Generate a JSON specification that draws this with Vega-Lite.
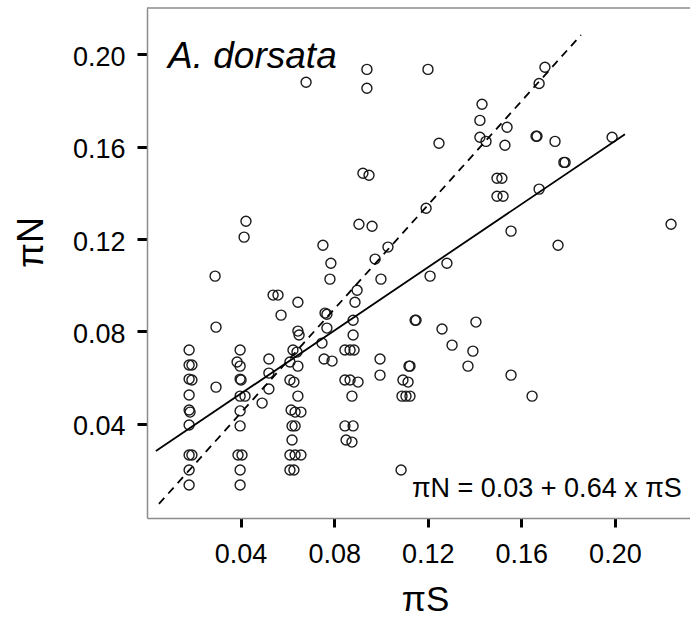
{
  "$schema": "https://vega.github.io/schema/vega-lite/v6.json",
  "width": 543,
  "height": 510,
  "autosize": "none",
  "padding": {"left": 147, "top": 8, "right": 0, "bottom": 100},
  "background": "white",
  "config": {"view": {"stroke": null}, "font": "Liberation Sans"},
  "datasets": {
    "pts": [
      {"piS":0.0180,"piN":0.0719},{"piS":0.0180,"piN":0.0654},{"piS":0.0192,"piN":0.0654},{"piS":0.0180,"piN":0.0593},
      {"piS":0.0192,"piN":0.0589},{"piS":0.0180,"piN":0.0524},{"piS":0.0180,"piN":0.0459},{"piS":0.0184,"piN":0.0450},
      {"piS":0.0180,"piN":0.0394},{"piS":0.0180,"piN":0.0264},{"piS":0.0192,"piN":0.0264},{"piS":0.0180,"piN":0.0199},
      {"piS":0.0180,"piN":0.0134},{"piS":0.0291,"piN":0.1039},{"piS":0.0295,"piN":0.0818},{"piS":0.0295,"piN":0.0558},
      {"piS":0.0423,"piN":0.1277},{"piS":0.0415,"piN":0.1208},{"piS":0.0398,"piN":0.0719},{"piS":0.0385,"piN":0.0667},
      {"piS":0.0398,"piN":0.0649},{"piS":0.0398,"piN":0.0593},{"piS":0.0402,"piN":0.0589},{"piS":0.0398,"piN":0.0519},
      {"piS":0.0419,"piN":0.0519},{"piS":0.0398,"piN":0.0455},{"piS":0.0398,"piN":0.0390},{"piS":0.0389,"piN":0.0264},
      {"piS":0.0406,"piN":0.0264},{"piS":0.0398,"piN":0.0199},{"piS":0.0398,"piN":0.0134},{"piS":0.0492,"piN":0.0489},
      {"piS":0.0521,"piN":0.0550},{"piS":0.0521,"piN":0.0619},{"piS":0.0521,"piN":0.0680},{"piS":0.0539,"piN":0.0957},
      {"piS":0.0560,"piN":0.0957},{"piS":0.0573,"piN":0.0870},{"piS":0.0645,"piN":0.0926},{"piS":0.0645,"piN":0.0801},
      {"piS":0.0650,"piN":0.0784},{"piS":0.0624,"piN":0.0719},{"piS":0.0641,"piN":0.0710},{"piS":0.0611,"piN":0.0667},
      {"piS":0.0645,"piN":0.0649},{"piS":0.0611,"piN":0.0589},{"piS":0.0628,"piN":0.0580},{"piS":0.0645,"piN":0.0519},
      {"piS":0.0616,"piN":0.0459},{"piS":0.0633,"piN":0.0450},{"piS":0.0658,"piN":0.0450},{"piS":0.0620,"piN":0.0390},
      {"piS":0.0633,"piN":0.0390},{"piS":0.0620,"piN":0.0329},{"piS":0.0611,"piN":0.0264},{"piS":0.0633,"piN":0.0264},
      {"piS":0.0658,"piN":0.0264},{"piS":0.0611,"piN":0.0199},{"piS":0.0628,"piN":0.0199},{"piS":0.0680,"piN":0.1879},
      {"piS":0.0752,"piN":0.1173},{"piS":0.0786,"piN":0.1095},{"piS":0.0782,"piN":0.1026},{"piS":0.0898,"piN":0.0978},
      {"piS":0.0889,"piN":0.0926},{"piS":0.0975,"piN":0.1113},{"piS":0.1030,"piN":0.1165},{"piS":0.0940,"piN":0.1935},
      {"piS":0.0940,"piN":0.1853},{"piS":0.0923,"piN":0.1485},{"piS":0.0949,"piN":0.1476},{"piS":0.0906,"piN":0.1264},
      {"piS":0.0962,"piN":0.1255},{"piS":0.1000,"piN":0.1026},{"piS":0.0761,"piN":0.0879},{"piS":0.0769,"piN":0.0874},
      {"piS":0.0769,"piN":0.0814},{"piS":0.0748,"piN":0.0749},{"piS":0.0757,"piN":0.0680},{"piS":0.0791,"piN":0.0671},
      {"piS":0.0881,"piN":0.0848},{"piS":0.0881,"piN":0.0784},{"piS":0.0846,"piN":0.0719},{"piS":0.0868,"piN":0.0719},
      {"piS":0.0885,"piN":0.0719},{"piS":0.0846,"piN":0.0589},{"piS":0.0868,"piN":0.0589},{"piS":0.0902,"piN":0.0580},
      {"piS":0.0876,"piN":0.0519},{"piS":0.0846,"piN":0.0390},{"piS":0.0881,"piN":0.0390},{"piS":0.0851,"piN":0.0329},
      {"piS":0.0876,"piN":0.0320},{"piS":0.0996,"piN":0.0680},{"piS":0.0996,"piN":0.0610},{"piS":0.1120,"piN":0.0649},
      {"piS":0.1124,"piN":0.0649},{"piS":0.1094,"piN":0.0589},{"piS":0.1116,"piN":0.0580},{"piS":0.1090,"piN":0.0519},
      {"piS":0.1107,"piN":0.0519},{"piS":0.1124,"piN":0.0519},{"piS":0.1086,"piN":0.0199},{"piS":0.1146,"piN":0.0848},
      {"piS":0.1150,"piN":0.0848},{"piS":0.1210,"piN":0.1039},{"piS":0.1282,"piN":0.1095},{"piS":0.1261,"piN":0.0810},
      {"piS":0.1304,"piN":0.0740},{"piS":0.1406,"piN":0.0840},{"piS":0.1393,"piN":0.0714},{"piS":0.1372,"piN":0.0649},
      {"piS":0.1193,"piN":0.1333},{"piS":0.1201,"piN":0.1935},{"piS":0.1248,"piN":0.1615},{"piS":0.1432,"piN":0.1784},
      {"piS":0.1423,"piN":0.1714},{"piS":0.1539,"piN":0.1684},{"piS":0.1423,"piN":0.1641},{"piS":0.1449,"piN":0.1623},
      {"piS":0.1530,"piN":0.1606},{"piS":0.1496,"piN":0.1463},{"piS":0.1517,"piN":0.1463},{"piS":0.1496,"piN":0.1385},
      {"piS":0.1522,"piN":0.1385},{"piS":0.1663,"piN":0.1645},{"piS":0.1667,"piN":0.1645},{"piS":0.1744,"piN":0.1623},
      {"piS":0.1701,"piN":0.1944},{"piS":0.1676,"piN":0.1874},{"piS":0.1782,"piN":0.1532},{"piS":0.1787,"piN":0.1532},
      {"piS":0.1676,"piN":0.1416},{"piS":0.1556,"piN":0.1234},{"piS":0.1757,"piN":0.1173},{"piS":0.1988,"piN":0.1641},
      {"piS":0.2240,"piN":0.1264},{"piS":0.1556,"piN":0.0610},{"piS":0.1646,"piN":0.0519}
    ],
    "fit": [{"piS":0.0038,"piN":0.0281},{"piS":0.2043,"piN":0.1654}],
    "diag": [{"piS":0.0051,"piN":0.0052},{"piS":0.1855,"piN":0.2084}]
  },
  "layer": [
    {
      "data": {"name": "pts"},
      "mark": {"type": "point", "shape": "circle", "filled": false, "stroke": "#1a1a1a", "strokeWidth": 1.4, "size": 100, "opacity": 1},
      "encoding": {
        "x": {
          "field": "piS", "type": "quantitative",
          "scale": {"domain": [0, 0.2321], "nice": false, "zero": false},
          "axis": {
            "title": "πS", "values": [0.04, 0.08, 0.12, 0.16, 0.20], "format": ".2f", "grid": false,
            "labelFontSize": 27, "labelColor": "black", "labelPadding": 14, "labelFont": "Liberation Sans",
            "tickColor": "black", "tickWidth": 3, "tickSize": 9,
            "domainColor": "#8c8c8c", "domainWidth": 1.5,
            "titleFontSize": 35, "titleFontWeight": "normal", "titleColor": "black", "titleFont": "Liberation Sans",
            "titleX": 278, "titleY": 92, "titleBaseline": "alphabetic", "titleAlign": "center"
          }
        },
        "y": {
          "field": "piN", "type": "quantitative",
          "scale": {"domain": [-0.0009, 0.2201], "nice": false, "zero": false},
          "axis": {
            "title": "πN", "values": [0.04, 0.08, 0.12, 0.16, 0.20], "format": ".2f", "grid": false,
            "labelFontSize": 27, "labelColor": "black", "labelPadding": 12, "labelFont": "Liberation Sans", "labelOffset": 3,
            "tickColor": "black", "tickWidth": 3, "tickSize": 10,
            "domainColor": "#8c8c8c", "domainWidth": 1.5,
            "titleFontSize": 36, "titleFontWeight": "normal", "titleColor": "black", "titleFont": "Liberation Sans",
            "titleX": -105, "titleY": 234, "titleBaseline": "alphabetic", "titleAlign": "center", "titleAngle": 270
          }
        }
      }
    },
    {
      "data": {"name": "fit"},
      "mark": {"type": "line", "color": "black", "strokeWidth": 1.8},
      "encoding": {
        "x": {"field": "piS", "type": "quantitative"},
        "y": {"field": "piN", "type": "quantitative"}
      }
    },
    {
      "data": {"name": "diag"},
      "mark": {"type": "line", "color": "black", "strokeWidth": 1.8, "strokeDash": [8, 6]},
      "encoding": {
        "x": {"field": "piS", "type": "quantitative"},
        "y": {"field": "piN", "type": "quantitative"}
      }
    },
    {
      "data": {"values": [{}]},
      "mark": {"type": "rule", "color": "#8c8c8c", "strokeWidth": 1.5},
      "encoding": {"y": {"datum": 0.2201}}
    },
    {
      "data": {"values": [{}]},
      "mark": {"type": "text", "text": "A. dorsata", "font": "Liberation Sans", "fontStyle": "italic", "fontSize": 37, "align": "left", "baseline": "alphabetic", "color": "black"},
      "encoding": {"x": {"datum": 0.0090}, "y": {"datum": 0.1942}}
    },
    {
      "data": {"values": [{}]},
      "mark": {"type": "text", "text": "πN = 0.03 + 0.64 x πS", "font": "Liberation Sans", "fontSize": 27, "align": "right", "baseline": "alphabetic", "color": "black"},
      "encoding": {"x": {"datum": 0.2286}, "y": {"datum": 0.0082}}
    }
  ]
}
